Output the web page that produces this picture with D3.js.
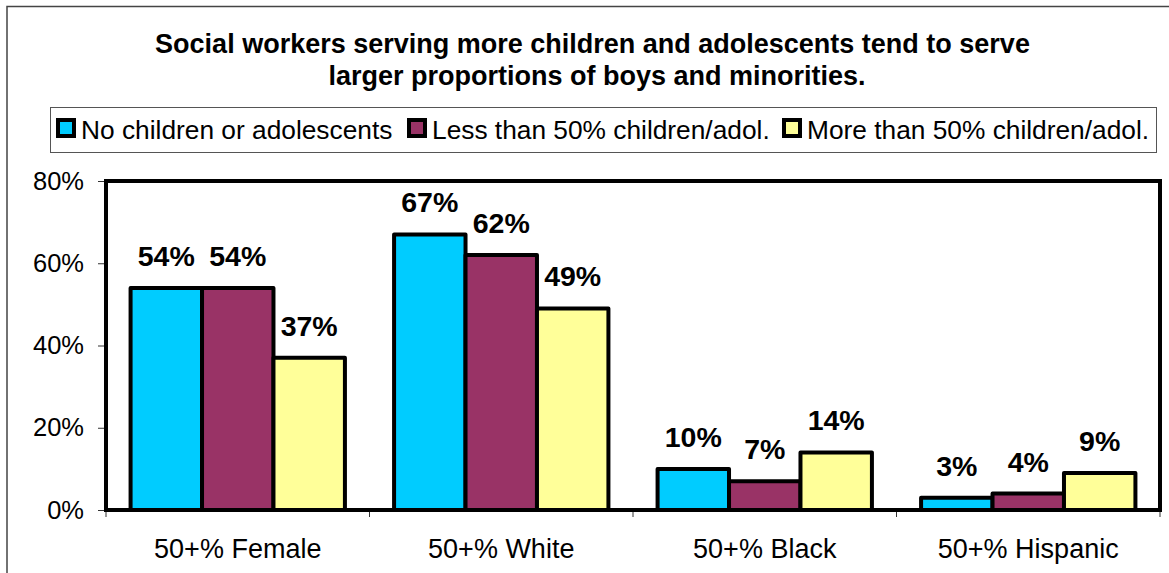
<!DOCTYPE html>
<html><head><meta charset="utf-8">
<script src="https://cdn.jsdelivr.net/npm/d3@7"></script>
<style>
html,body{margin:0;padding:0;background:#fff;}
svg{display:block;font-family:Arial,"Liberation Sans",sans-serif;}
</style></head>
<body>
<script>
const categories = ["50+% Female", "50+% White", "50+% Black", "50+% Hispanic"];
const seriesNames = ["No children or adolescents", "Less than 50% children/adol.", "More than 50% children/adol."];
const noChildren = [54, 67, 10, 3];
const lessThan50 = [54, 62, 7, 4];
const moreThan50 = [37, 49, 14, 9];
const yTicks = [0, 20, 40, 60, 80];
const colors = ["#00CCFF", "#993366", "#FFFF99"];
const titleLines = ["Social workers serving more children and adolescents tend to serve", "larger proportions of boys and minorities."];

const series = [noChildren, lessThan50, moreThan50];
const W = 1169, H = 573;
const svg = d3.select("body").append("svg").attr("width", W).attr("height", H);

// outer frame
svg.append("rect").attr("x", 7).attr("y", 6.5).attr("width", W + 20).attr("height", H + 20)
  .attr("fill", "none").attr("stroke", "#444").attr("stroke-width", 1.5);

const plot = {left: 106, right: 1160, top: 181, bottom: 510};
const x0 = d3.scaleBand().domain(categories).range([plot.left, plot.right]).paddingInner(0).paddingOuter(0);
const x1 = d3.scaleBand().domain(d3.range(3)).range([0, x0.bandwidth()]).paddingOuter(0.344).paddingInner(0);
const y = d3.scaleLinear().domain([0, 80]).range([plot.bottom, plot.top]);

// title
svg.append("text").attr("text-anchor", "middle")
  .attr("font-weight", "bold").attr("font-size", 27)
  .selectAll("tspan").data(titleLines).join("tspan")
  .attr("x", (d, i) => i === 0 ? 592.5 : 597).attr("y", (d, i) => 53 + i * 32).text(d => d);

// legend
const lg = svg.append("g");
lg.append("rect").attr("x", 50.5).attr("y", 107.5).attr("width", 1106).attr("height", 45)
  .attr("fill", "#fff").attr("stroke", "#555").attr("stroke-width", 1);
const legX = [56, 407, 782];
seriesNames.forEach((n, i) => {
  lg.append("rect").attr("x", legX[i] + 2).attr("y", 120).attr("width", 16).attr("height", 16)
    .attr("fill", colors[i]).attr("stroke", "#000").attr("stroke-width", 4);
  lg.append("text").attr("x", legX[i] + 25).attr("y", 139).attr("font-size", 26.3).text(n);
});

// axes
const yAxis = d3.axisLeft(y).tickValues(yTicks).tickFormat(d => d + "%").tickSize(7).tickPadding(14);
const gy = svg.append("g").attr("transform", `translate(${plot.left - 1},0)`).call(yAxis);
gy.select(".domain").remove();
gy.selectAll("text").attr("font-size", 25.5).attr("fill", "#000").attr("font-family", "Arial, 'Liberation Sans', sans-serif");
gy.selectAll("line").attr("stroke", "#333");

const xTickPos = d3.range(categories.length + 1).map(i => plot.left + i * x0.bandwidth());
svg.append("g").selectAll("line").data(xTickPos).join("line")
  .attr("x1", d => d).attr("x2", d => d).attr("y1", plot.bottom).attr("y2", plot.bottom + 7)
  .attr("stroke", "#333").attr("stroke-width", 1);

svg.append("g").selectAll("text").data(categories).join("text")
  .attr("x", d => x0(d) + x0.bandwidth() / 2).attr("y", 558)
  .attr("text-anchor", "middle").attr("font-size", 27).text(d => d);

// plot frame
svg.append("rect").attr("x", plot.left).attr("y", plot.top)
  .attr("width", plot.right - plot.left).attr("height", plot.bottom - plot.top)
  .attr("fill", "none").attr("stroke", "#000").attr("stroke-width", 4);

// bars
const groups = svg.append("g").selectAll("g").data(categories).join("g")
  .attr("transform", d => `translate(${x0(d)},0)`);
groups.selectAll("rect").data((d, ci) => series.map((s, si) => ({si, v: s[ci]}))).join("rect")
  .attr("x", d => x1(d.si)).attr("width", x1.bandwidth())
  .attr("y", d => y(d.v)).attr("height", d => y(0) - y(d.v))
  .attr("fill", d => colors[d.si]).attr("stroke", "#000").attr("stroke-width", 4)
  .attr("stroke-linejoin", "round");
groups.selectAll("text").data((d, ci) => series.map((s, si) => ({si, v: s[ci]}))).join("text")
  .attr("x", d => x1(d.si) + x1.bandwidth() / 2).attr("y", d => y(d.v) - 22)
  .attr("text-anchor", "middle").attr("font-weight", "bold").attr("font-size", 28.5)
  .text(d => d.v + "%");
</script>
</body></html>
